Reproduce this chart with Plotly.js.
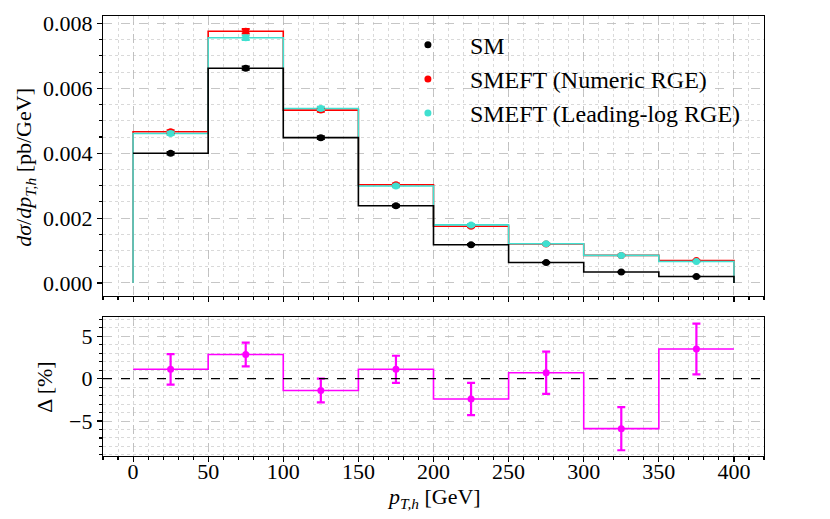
<!DOCTYPE html>
<html>
<head>
<meta charset="utf-8">
<script src="https://cdn.plot.ly/plotly-3.0.1.min.js"></script>
<style>
  body { margin: 0; background: white; }
  #chart { width: 830px; height: 519px; }
</style>
</head>
<body>
<div id="chart"></div>
<script>
// bin edges and centres in p_T,h [GeV]
var edges = [0, 50, 100, 150, 200, 250, 300, 350, 400];
var centers = [25, 75, 125, 175, 225, 275, 325, 375];

// d sigma / d pT [pb/GeV]
var smVals = [0.00400, 0.00662, 0.00448, 0.00238, 0.00118, 0.00063, 0.00034, 0.00020];
var smErr = [0.00004, 0.00005, 0.00004, 0.00003, 0.00002, 0.00002, 0.00001, 0.00001];
var numVals = [0.00466, 0.00776, 0.00533, 0.00303, 0.00175, 0.00120, 0.00085, 0.00069];
var numErr = [0.00005, 0.00007, 0.00005, 0.00004, 0.00003, 0.00002, 0.00002, 0.00001];
var llVals = [0.00461, 0.00756, 0.00538, 0.00299, 0.00179, 0.00121, 0.00085, 0.00066];
var llErr = [0.00005, 0.00007, 0.00005, 0.00004, 0.00003, 0.00002, 0.00002, 0.00001];

// ratio panel [%]
var deltaVals = [1.1, 2.85, -1.4, 1.1, -2.4, 0.7, -5.9, 3.5];
var deltaErr = [1.8, 1.4, 1.4, 1.6, 1.9, 2.5, 2.55, 3.0];

var tickVals = [0, 50, 100, 150, 200, 250, 300, 350, 400];

var RED = '#ff0000', CYAN = '#40e0d0', BLACK = '#000000', MAG = '#ff00ff';
var SERIF = 'Liberation Serif';

// step with a leg down to zero at both ends
function stepFull(vals) {
  return { x: [edges[0]].concat(edges), y: [0].concat(vals, [0]) };
}
// step that only drops to zero at the right end
function stepRight(vals) {
  return { x: edges.slice(), y: vals.concat([0]) };
}

var sRed = stepFull(numVals);
var sCyan = stepFull(llVals);
var sBlack = stepRight(smVals);

function stepTrace(s, color) {
  return {
    x: s.x, y: s.y, xaxis: 'x', yaxis: 'y',
    mode: 'lines', line: { shape: 'hv', color: color, width: 1.6 },
    showlegend: false, hoverinfo: 'skip'
  };
}

function pointTrace(name, vals, errs, color) {
  return {
    x: centers, y: vals, xaxis: 'x', yaxis: 'y', name: name,
    mode: 'markers', type: 'scatter',
    marker: { color: color, size: 7 },
    error_y: { type: 'data', array: errs, color: color, thickness: 2, width: 4 }
  };
}

var deltaStep = {
  x: edges, y: deltaVals.concat([deltaVals[deltaVals.length - 1]]),
  xaxis: 'x2', yaxis: 'y2', mode: 'lines',
  line: { shape: 'hv', color: MAG, width: 1.6 },
  showlegend: false, hoverinfo: 'skip'
};
var deltaPts = {
  x: centers, y: deltaVals, xaxis: 'x2', yaxis: 'y2',
  mode: 'markers', marker: { color: MAG, size: 7 },
  error_y: { type: 'data', array: deltaErr, color: MAG, thickness: 2.2, width: 4 },
  showlegend: false
};

var traces = [
  stepTrace(sRed, RED),
  stepTrace(sCyan, CYAN),
  stepTrace(sBlack, BLACK),
  pointTrace('SM', smVals, smErr, BLACK),
  pointTrace('SMEFT (Numeric RGE)', numVals, numErr, RED),
  pointTrace('SMEFT (Leading-log RGE)', llVals, llErr, CYAN),
  deltaStep,
  deltaPts
];

function xAxis(anchor, labels) {
  return {
    anchor: anchor, domain: [0, 1], range: [-20, 420],
    tickvals: tickVals, ticks: 'outside', ticklen: 5, tickwidth: 1.1, tickcolor: 'black',
    showticklabels: labels, ticklabelstandoff: -10,
    tickfont: { family: SERIF, size: 22 },
    showline: true, mirror: true, linecolor: 'black', linewidth: 1.2,
    showgrid: true, gridcolor: '#b8b8b8', griddash: 'dash', gridwidth: 0.8,
    zeroline: false,
    minor: { dtick: 10, tick0: 0, ticks: 'outside', ticklen: 3, tickcolor: 'black',
             showgrid: true, gridcolor: '#d0d0d0', griddash: 'dot', gridwidth: 0.8 }
  };
}

function yAxis(anchor, domain, range, dtick, minorDtick, fmt) {
  return {
    anchor: anchor, domain: domain, range: range,
    dtick: dtick, tick0: 0, tickformat: fmt,
    tickfont: { family: SERIF, size: 22 },
    ticks: 'outside', ticklen: 5, tickwidth: 1.1, tickcolor: 'black',
    showline: true, mirror: true, linecolor: 'black', linewidth: 1.2,
    showgrid: true, gridcolor: '#b8b8b8', griddash: 'dash', gridwidth: 0.8,
    zeroline: false,
    minor: { dtick: minorDtick, ticks: 'outside', ticklen: 3, tickcolor: 'black',
             showgrid: true, gridcolor: '#d0d0d0', griddash: 'dot', gridwidth: 0.8 }
  };
}

function label(text, x, y, angle) {
  return {
    text: text, showarrow: false, textangle: angle,
    xref: 'paper', yref: 'paper', x: x, y: y, xanchor: 'center', yanchor: 'middle',
    font: { family: SERIF, size: 22 }
  };
}

var layout = {
  width: 830, height: 519,
  margin: { l: 103, r: 66, t: 16, b: 63 },
  paper_bgcolor: 'white', plot_bgcolor: 'white',
  font: { family: SERIF, size: 22, color: 'black' },
  showlegend: true,
  legend: {
    x: 0.428, y: 0.985, xanchor: 'left', yanchor: 'top',
    bgcolor: 'rgba(0,0,0,0)', borderwidth: 0, itemwidth: 74,
    font: { family: SERIF, size: 24 }, tracegroupgap: 0
  },
  xaxis: xAxis('y', false),
  yaxis: yAxis('x', [0.363, 1], [-0.00041, 0.00823], 0.002, 0.0005, '.3f'),
  xaxis2: xAxis('y2', true),
  yaxis2: yAxis('x2', [0, 0.316], [-9.13, 7.28], 5, 1, ''),
  annotations: [
    label('<i>p</i><sub><i>T,h</i></sub> [GeV]', 0.5, -0.096, 0),
    label('<i>dσ</i>/<i>dp</i><sub><i>T,h</i></sub> [pb/GeV]', -0.118, 0.655, -90),
    label('Δ [%]', -0.088, 0.157, -90)
  ],
  shapes: [{
    type: 'line', xref: 'x2 domain', x0: 0, x1: 1, yref: 'y2', y0: 0, y1: 0,
    line: { color: 'black', width: 1.3, dash: 'dash' }
  }]
};

Plotly.newPlot('chart', traces, layout, { displayModeBar: false, staticPlot: true });
</script>
</body>
</html>
